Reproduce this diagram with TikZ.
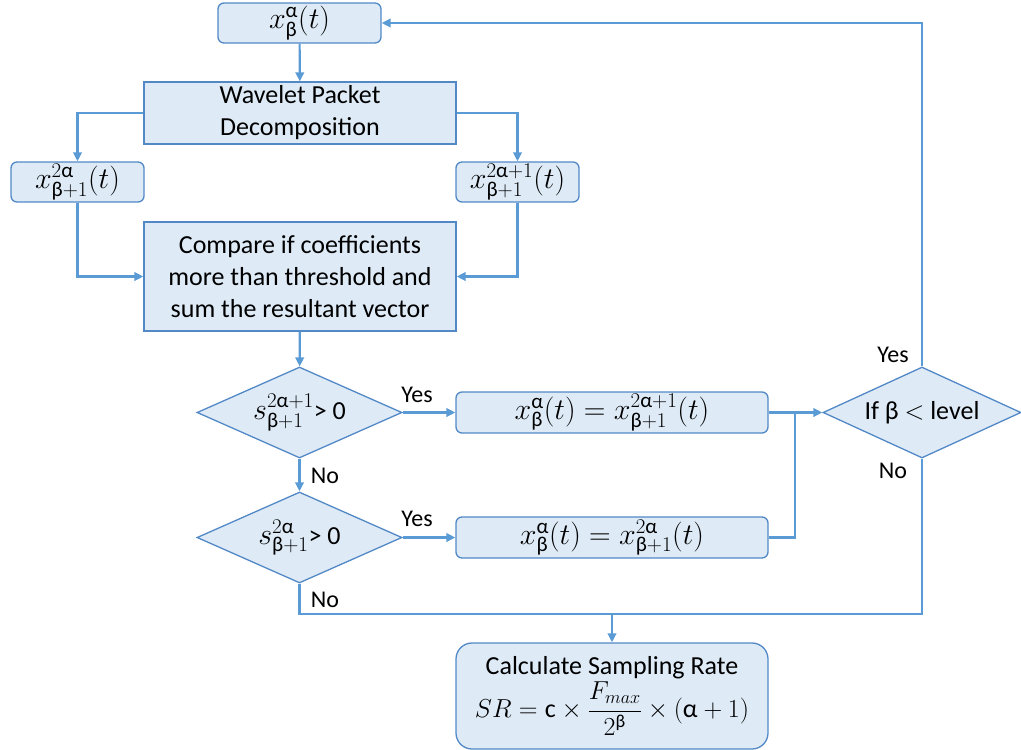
\RequirePackage{fix-cm}
\documentclass[tikz,border=0pt]{standalone}
\usepackage{amsmath}
\usepackage{fontspec}
\setmainfont{Carlito}
\usetikzlibrary{arrows.meta,shapes.geometric}
\definecolor{boxfill}{HTML}{DEEBF7}
\definecolor{boxline}{HTML}{5288C6}
\definecolor{wire}{HTML}{5B9BD5}
% upright Greek letters taken from the text font
\newcommand{\ga}{\text{α}}
\newcommand{\gb}{\text{β}}
% slightly larger size for the formulas
\newcommand{\bigmath}{\fontsize{30}{32}\selectfont}
\begin{document}
\begin{tikzpicture}[x=1pt,y=-1pt,
  font=\fontsize{26}{32}\selectfont,
  base/.style={draw=boxline,fill=boxfill,line width=1.3pt,inner sep=0pt,align=center},
  rbox/.style={base,rounded corners=6pt},
  sbox/.style={base},
  dbox/.style={base,diamond,shape aspect=2.2},
  mth/.style={font=\bigmath},
  conn/.style={draw=wire,line width=2.2pt},
  arr/.style={conn,-{Triangle[length=9pt,width=8.5pt]}},
  lbl/.style={font=\fontsize{24}{26}\selectfont,inner sep=0pt}]
\useasboundingbox (0,0) rectangle (1021,750);

% boxes
\node[rbox,mth,minimum width=163pt,minimum height=40pt] (top) at (299.5,23) {$x_{\gb}^{\ga}(t)$};
\node[sbox,minimum width=312pt,minimum height=62pt] (wpd) at (300,113) {Wavelet Packet\\Decomposition};
\node[rbox,mth,minimum width=133pt,minimum height=40pt] (lo) at (77.5,182) {$x_{\gb+1}^{2\ga}(t)$};
\node[rbox,mth,minimum width=123pt,minimum height=40pt] (hi) at (517.5,182) {$x_{\gb+1}^{2\ga+1}(t)$};
\node[sbox,minimum width=312pt,minimum height=109pt] (cmp) at (300,276.5) {Compare if coefficients\\more than threshold and\\sum the resultant vector};

\node[dbox,minimum width=205pt,minimum height=91pt] (d1) at (299.5,412.5) {{\bigmath$s_{\gb+1}^{2\ga+1}$}> 0};
\node[dbox,minimum width=205pt,minimum height=91pt] (d2) at (299.5,537.5) {{\bigmath$s_{\gb+1}^{2\ga}$}> 0};
\node[dbox,minimum width=198pt,minimum height=91pt] (d3) at (922,412.5) {If β $<$ level};

\node[rbox,mth,minimum width=312pt,minimum height=41pt] (b1) at (612,412.5) {$x_{\gb}^{\ga}(t) = x_{\gb+1}^{2\ga+1}(t)$};
\node[rbox,mth,minimum width=312pt,minimum height=41pt] (b2) at (612,537.5) {$x_{\gb}^{\ga}(t) = x_{\gb+1}^{2\ga}(t)$};
\node[base,rounded corners=16pt,minimum width=312pt,minimum height=106pt] (fin) at (612,696)
  {Calculate Sampling Rate\\[2pt]$SR = \text{c}\times\dfrac{F_{max}}{2^{\gb}}\times(\ga+1)$};

% junction points on the wires
\coordinate (join) at (795,412.5);
\coordinate (bend) at (922,614);
\coordinate (tap) at (612,614);

% connectors
\draw[arr] (top) -- (wpd);
\draw[arr] (wpd.west) -| (lo.north);
\draw[arr] (wpd.east) -| (hi.north);
\draw[arr] (lo.south) |- (cmp.west);
\draw[arr] (hi.south) |- (cmp.east);
\draw[arr] (cmp) -- (d1);
\draw[arr] (d1) -- (b1);
\draw[arr] (d1) -- (d2);
\draw[arr] (d2) -- (b2);
\draw[arr] (b1) -- (d3);
\draw[conn] (b2.east) -| (join);
\draw[conn] (d2.south) |- (bend) -- (d3.south);
\draw[arr] (tap) -- (fin);
\draw[arr] (d3.north) |- (top.east);

% branch labels
\node[lbl] (y1) at (417,395) {Yes};
\node[lbl] (n1) at (325,476) {No};
\node[lbl] (y2) at (417,519) {Yes};
\node[lbl] (n2) at (325,600) {No};
\node[lbl] (y3) at (893,355) {Yes};
\node[lbl] (n3) at (893,471) {No};
\end{tikzpicture}
\end{document}
